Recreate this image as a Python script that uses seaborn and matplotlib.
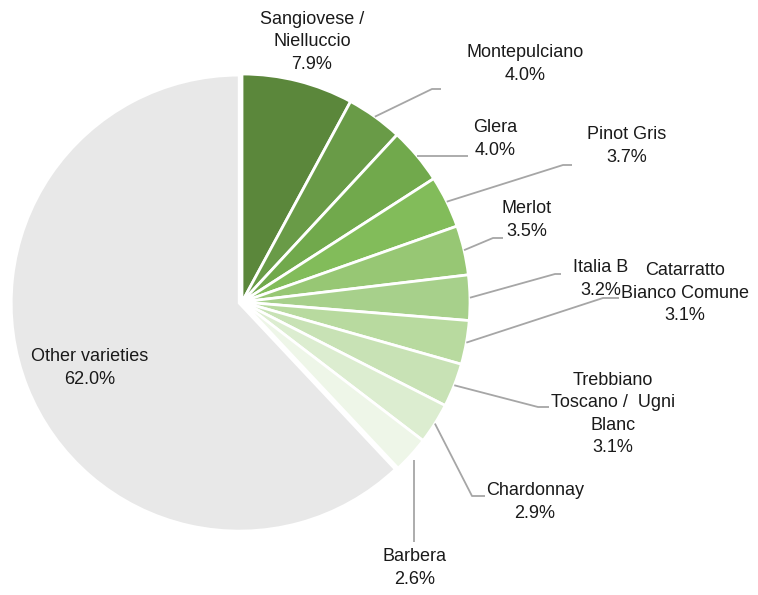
import matplotlib
matplotlib.use("Agg")
import numpy as np
import matplotlib.pyplot as plt
import seaborn as sns

# grape varieties, share of area (%)
varieties = ['Sangiovese /\nNielluccio', 'Montepulciano', 'Glera', 'Pinot Gris', 'Merlot',
             'Italia B', 'Catarratto\nBianco Comune', 'Trebbiano\nToscano /  Ugni\nBlanc',
             'Chardonnay', 'Barbera', 'Other varieties']
shares = [7.9, 4.0, 4.0, 3.7, 3.5, 3.2, 3.1, 3.1, 2.9, 2.6, 62.0]
colors = ['#5b873b', '#699b47', '#71a94c', '#82bc5a', '#97c774', '#a7d08b',
          '#b8da9f', '#c8e2b5', '#dcedd0', '#eef6e8', '#e8e8e8']

sns.set_theme(style='white')
plt.rcParams['font.family'] = ['Liberation Sans', 'DejaVu Sans']

W, H = 758, 595
fig = plt.figure(figsize=(W / 100, H / 100), dpi=100)
ax = fig.add_axes([0, 0, 1, 1])

cx, cy, r = 242, 302, 228
explode = [0] * (len(shares) - 1) + [3]   # pie explode is in data units here

wedges, _ = ax.pie(shares, colors=colors, startangle=90, counterclock=False,
                   center=(cx, H - cy), radius=r, explode=explode,
                   wedgeprops=dict(edgecolor='white', linewidth=2))
ax.set_xlim(0, W)
ax.set_ylim(0, H)
ax.set_aspect('equal')
ax.axis('off')

# label layout in pixel coords: text centre, leader elbow, leader end (None = no line)
layout = [
    ((312, 42), None, None),
    ((525, 64), (432, 89), (441, 89)),
    ((495, 139), None, (468, 156)),
    ((627, 146), (563, 165), (572, 165)),
    ((527, 220), (493, 238), (503, 238)),
    ((601, 279), (555, 274), (561, 274)),
    ((685, 293), (603, 298), (619, 298)),
    ((613, 414), (538, 407), (549, 407)),
    ((535, 502), (472, 496), (485, 496)),
    ((415, 568), None, (414, 542)),
    ((90, 368), None, None),
]

for w, name, val, (txt, elbow, end) in zip(wedges, varieties, shares, layout):
    ax.text(txt[0], H - txt[1], f"{name}\n{val:.1f}%", ha='center', va='center',
            fontsize=13, color='#1a1a1a', linespacing=1.42)
    if end is None:
        continue
    ang = np.deg2rad((w.theta1 + w.theta2) / 2)
    sx, sy = cx + r * np.cos(ang), (H - cy) + r * np.sin(ang)
    if name == 'Barbera':
        pts = [(end[0], H - 460), (end[0], H - end[1])]
    elif elbow is None:
        pts = [(sx, sy), (end[0], sy)]
    else:
        pts = [(sx, sy), (elbow[0], H - elbow[1]), (end[0], H - end[1])]
    xs, ys = zip(*pts)
    ax.plot(xs, ys, color='#a6a6a6', lw=1.3, solid_capstyle='butt')

fig.savefig('out.png', dpi=100)
